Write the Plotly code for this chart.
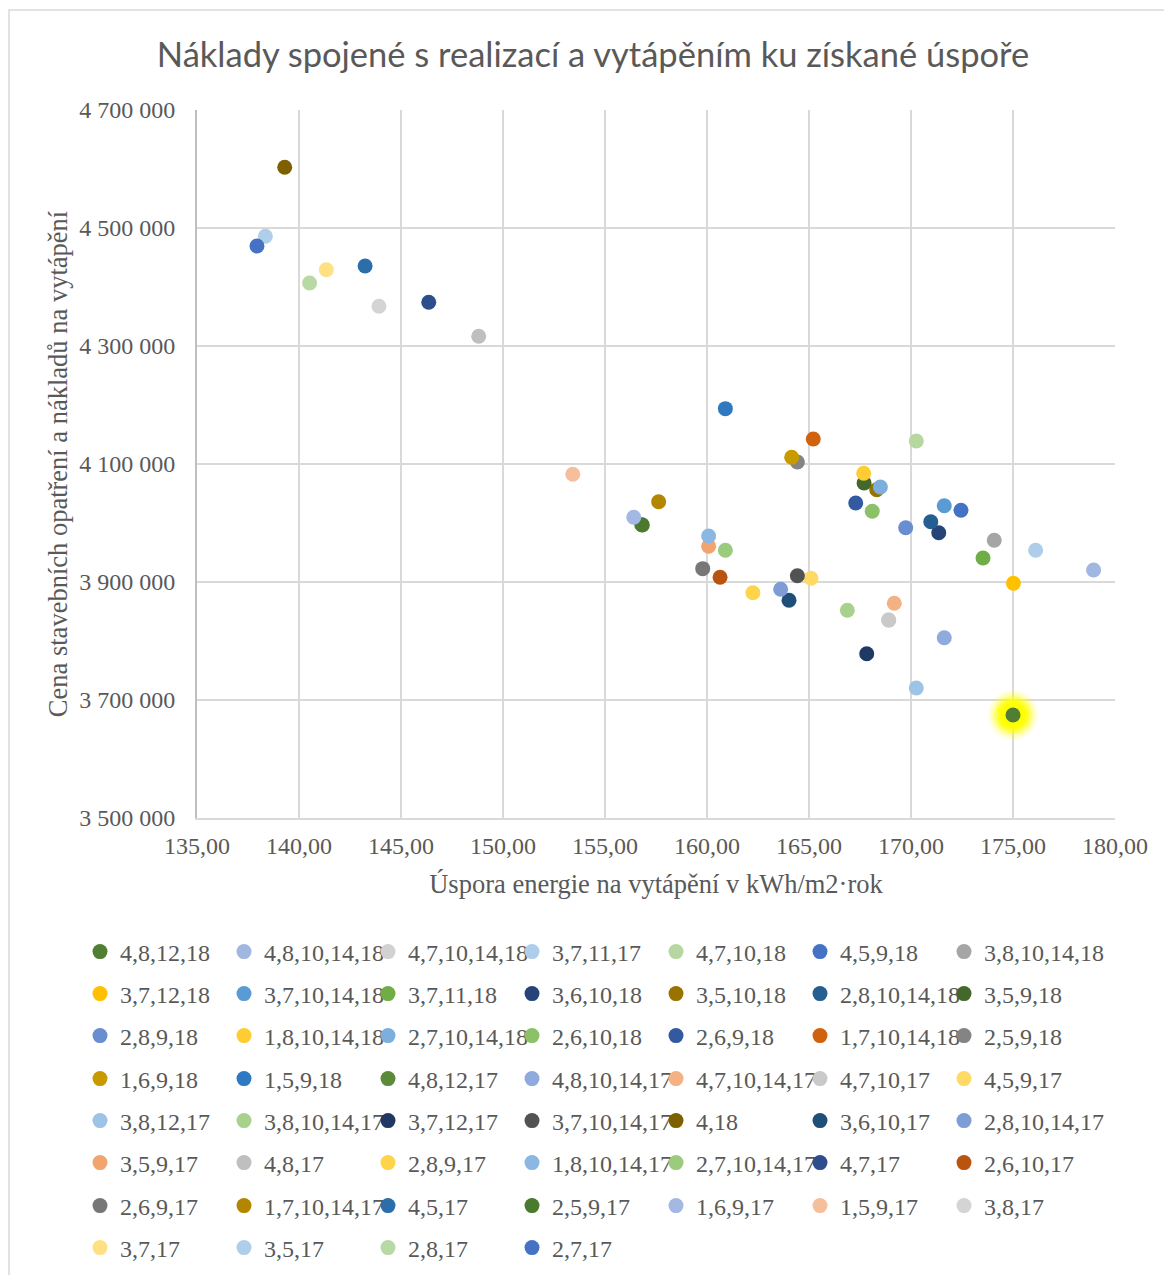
import plotly.graph_objects as go

# ---------------- data ----------------
labels = [
    "4,8,12,18", "4,8,10,14,18", "4,7,10,14,18", "3,7,11,17", "4,7,10,18", "4,5,9,18", "3,8,10,14,18",
    "3,7,12,18", "3,7,10,14,18", "3,7,11,18", "3,6,10,18", "3,5,10,18", "2,8,10,14,18", "3,5,9,18",
    "2,8,9,18", "1,8,10,14,18", "2,7,10,14,18", "2,6,10,18", "2,6,9,18", "1,7,10,14,18", "2,5,9,18",
    "1,6,9,18", "1,5,9,18", "4,8,12,17", "4,8,10,14,17", "4,7,10,14,17", "4,7,10,17", "4,5,9,17",
    "3,8,12,17", "3,8,10,14,17", "3,7,12,17", "3,7,10,14,17", "4,18", "3,6,10,17", "2,8,10,14,17",
    "3,5,9,17", "4,8,17", "2,8,9,17", "1,8,10,14,17", "2,7,10,14,17", "4,7,17", "2,6,10,17",
    "2,6,9,17", "1,7,10,14,17", "4,5,17", "2,5,9,17", "1,6,9,17", "1,5,9,17", "3,8,17",
    "3,7,17", "3,5,17", "2,8,17", "2,7,17",
]

savings = [
    175.00, 178.95, 168.90, 176.11, 170.26, 172.45, 174.08,
    175.02, 171.63, 173.53, 171.36, 168.32, 170.97, 167.70,
    169.74, 167.68, 168.50, 168.10, 167.29, 165.21, 164.43,
    164.15, 160.90, 156.80, 171.63, 169.18, 168.91, 165.10,
    170.26, 166.88, 167.83, 164.43, 139.30, 164.02, 163.61,
    160.08, 148.81, 162.25, 160.08, 160.90, 146.36, 160.64,
    159.79, 157.63, 143.24, 156.83, 156.41, 153.42, 143.92,
    141.34, 138.35, 140.52, 137.94,
]

costs = [
    3674600, 3920300, 3836000, 3953700, 4139000, 4021500, 3970700,
    3897800, 4029300, 3940700, 3983600, 4056500, 4002200, 4067800,
    3992000, 4084200, 4061000, 4019800, 4033900, 4142400, 4103400,
    4111400, 4193800, 3997000, 3805600, 3863900, 3835100, 3906300,
    3720400, 3852100, 3778500, 3910700, 4602900, 3869000, 3887700,
    3960500, 4316400, 3881900, 3978000, 3953700, 4374100, 3908000,
    3922600, 4036100, 4435600, 3996600, 4009700, 4082500, 4367300,
    4429300, 4485900, 4406800, 4469500,
]

colors = [
    "#507E32", "#A1B6E0", "#D2D2D2", "#ADCDEA", "#B6D7A0", "#4472C4", "#A5A5A5",
    "#FFC000", "#5B9BD5", "#70AD47", "#264478", "#997300", "#255E91", "#43682B",
    "#698ED0", "#FFCD33", "#7CAFDD", "#8CC168", "#335AA1", "#D0620F", "#848484",
    "#C99A00", "#2E79C2", "#5B8B3A", "#8FAADC", "#F4B183", "#C9C9C9", "#FFD966",
    "#9DC3E6", "#A9D18E", "#1F3864", "#525252", "#7F6000", "#1F4E79", "#7E9DD6",
    "#F1A46F", "#BFBFBF", "#FFD44B", "#8BB8E3", "#9BCB7C", "#2E4D8C", "#B8540F",
    "#777777", "#B38600", "#2B6EAA", "#4A7A2E", "#A3B8E2", "#F6BF9B", "#D4D4D4",
    "#FFE083", "#AFCEEA", "#B8D9A3", "#4672C6",
]

highlight = "4,8,12,18"

title_text = "Náklady spojené s realizací a vytápěním ku získané úspoře"
x_title = "Úspora energie na vytápění v kWh/m2·rok"
y_title = "Cena stavebních opatření a nákladů na vytápění"

# ---------------- layout geometry ----------------
W, H = 1164, 1275
L, R, T, B = 197, 49, 110, 457
PW, PH = W - L - R, H - T - B
per_row = 7
row_px = [953, 995, 1037, 1080, 1122, 1164, 1207, 1249]
row_shift = -1
legend_left_px = 80
col_step = 144


def px_to_paper_x(px):
    return (px - L) / PW


def px_to_paper_y(py):
    return (H - B - py) / PH


fig = go.Figure()

# glow behind highlighted point
hi = labels.index(highlight)
for s, op in [(50, 0.12), (44, 0.22), (38, 0.4), (32, 0.65), (26, 0.9)]:
    fig.add_trace(go.Scatter(
        x=[savings[hi]], y=[costs[hi]], mode="markers",
        marker=dict(size=s, color="#FFFF00", opacity=op, line=dict(width=0)),
        showlegend=False, hoverinfo="skip"))

for i, (lab, xv, yv, c) in enumerate(zip(labels, savings, costs, colors)):
    row = i // per_row
    col = i % per_row
    lname = "legend" if row == 0 else f"legend{row + 1}"
    extra = dict(legendwidth=150) if col == per_row - 1 else {}
    fig.add_trace(go.Scatter(
        x=[xv], y=[yv], mode="markers", name=lab,
        marker=dict(size=15, color=c, line=dict(width=0)),
        legend=lname, **extra))

legend_font = dict(family="Liberation Serif", size=24, color="#595959")
layout_legends = {}
for r, py in enumerate(row_px):
    lname = "legend" if r == 0 else f"legend{r + 1}"
    layout_legends[lname] = dict(
        orientation="h", x=px_to_paper_x(legend_left_px), xanchor="left",
        y=px_to_paper_y(py + row_shift), yanchor="middle",
        entrywidth=col_step - 45, entrywidthmode="pixels",
        font=dict(legend_font), bgcolor="rgba(0,0,0,0)", borderwidth=0,
        itemclick=False, itemdoubleclick=False, traceorder="normal")

axis_font = dict(family="Liberation Serif", size=24, color="#595959")
axis_title_font = dict(family="Liberation Serif", size=26.5, color="#595959")

fig.update_layout(
    width=W, height=H, autosize=False,
    margin=dict(l=L, r=R, t=T, b=B, autoexpand=False),
    paper_bgcolor="white", plot_bgcolor="white",
    font=dict(family="Liberation Serif", size=24, color="#595959"),
    separators=", ",
    title=dict(text=title_text, x=593 / W, xref="container", xanchor="center",
               y=1 - 55 / H, yref="container", yanchor="middle",
               font=dict(family="Lato", size=34.5, color="#595959")),
    xaxis=dict(range=[135, 180], dtick=5, tick0=135, tickformat=".2f",
               showgrid=True, gridcolor="#D9D9D9", gridwidth=2,
               showline=True, linecolor="#D9D9D9", linewidth=2,
               zeroline=False, ticks="", tickfont=axis_font,
               ticklabelstandoff=5, automargin=False,
               title=dict(text=x_title, font=axis_title_font, standoff=17)),
    yaxis=dict(range=[3500000, 4700000], dtick=200000, tick0=3500000, tickformat=",d",
               showgrid=True, gridcolor="#D9D9D9", gridwidth=2,
               showline=True, linecolor="#BFBFBF", linewidth=2,
               zeroline=False, ticks="", tickfont=axis_font,
               ticklabelstandoff=15, automargin=False,
               title=dict(text=y_title, font=axis_title_font, standoff=4)),
    shapes=[dict(type="rect", xref="paper", yref="paper",
                 x0=px_to_paper_x(9), x1=px_to_paper_x(W + 20),
                 y0=px_to_paper_y(H + 20), y1=px_to_paper_y(10),
                 line=dict(color="#D9D9D9", width=1.5), fillcolor="rgba(0,0,0,0)",
                 layer="below")],
    **layout_legends,
)

fig.write_html("out.html")
